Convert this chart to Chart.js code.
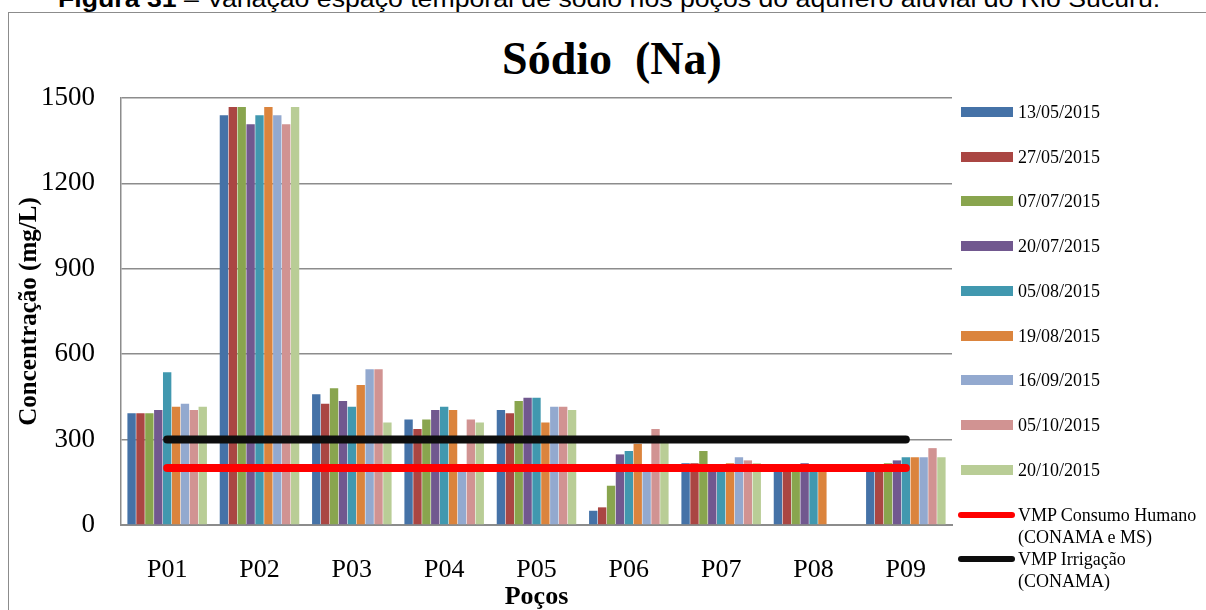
<!DOCTYPE html>
<html>
<head>
<meta charset="utf-8">
<script src="https://cdn.jsdelivr.net/npm/chart.js@4.4.1/dist/chart.umd.min.js"></script>
<style>
  html, body { margin: 0; padding: 0; background: #fff; overflow: hidden; }
  body { width: 1206px; height: 610px; position: relative; }
  #frame { position: absolute; left: 8px; top: 12px; width: 1300px; height: 700px; border: 1px solid #8c8c8c; }
  #caption { position: absolute; left: 58px; top: -13px; font: 24px "Liberation Sans", Arial, sans-serif; line-height: 24px; white-space: nowrap; transform-origin: 0 0; color: #000; }
  #title { position: absolute; left: 0; width: 1224px; top: 36px; text-align: center; font: bold 46px "Liberation Serif", "Times New Roman", serif; line-height: 46px; white-space: pre; color: #000; }
  #chart { position: absolute; left: 0; top: 0; }
  #legend { position: absolute; left: 958px; top: 89.6px; font: 18px "Liberation Serif", "Times New Roman", serif; color: #000; }
  .item { height: 44.75px; display: flex; align-items: center; }
  .box { width: 52px; height: 10px; margin-left: 3px; margin-right: 5px; }
  .ln { width: 57px; height: 6px; border-radius: 3px; margin-right: 3px; }
  .txt { height: 22px; line-height: 22px; white-space: nowrap; }
</style>
</head>
<body>
<div id="frame"></div>
<span id="caption"><b>Figura 31</b> – Variação espaço temporal de sódio nos poços do aquífero aluvial do Rio Sucuru.</span>
<div id="title">Sódio  (Na)</div>
<canvas id="chart" width="1206" height="610"></canvas>
<div id="legend"></div>
<script>
// Poços e datas de coleta
const wells = ["P01", "P02", "P03", "P04", "P05", "P06", "P07", "P08", "P09"];
const dates = ["13/05/2015", "27/05/2015", "07/07/2015", "20/07/2015", "05/08/2015",
               "19/08/2015", "16/09/2015", "05/10/2015", "20/10/2015"];

// Concentração de sódio (mg/L) por data, na ordem dos poços
const na_13_05 = [393, 1439, 459, 371, 404, 50, 217, 200, 205];
const na_27_05 = [393, 1468, 426, 337, 393, 62, 217, 200, 205];
const na_07_07 = [393, 1468, 480, 371, 436, 138, 260, 200, 217];
const na_20_07 = [404, 1408, 436, 404, 447, 248, 205, 217, 227];
const na_05_08 = [537, 1439, 415, 415, 447, 260, 205, 205, 238];
const na_19_08 = [415, 1468, 492, 404, 360, 285, 217, 205, 238];
const na_16_09 = [426, 1439, 547, 200, 415, 200, 238, null, 238];
const na_05_10 = [404, 1408, 547, 371, 415, 337, 227, null, 270];
const na_20_10 = [415, 1468, 360, 360, 404, 290, 217, null, 238];
const series = [na_13_05, na_27_05, na_07_07, na_20_07, na_05_08, na_19_08, na_16_09, na_05_10, na_20_10];

// Valores máximos permitidos
const vmpConsumo = [200, 200, 200, 200, 200, 200, 200, 200, 200];
const vmpIrrigacao = [300, 300, 300, 300, 300, 300, 300, 300, 300];

const yTicks = { min: 0, max: 1500, step: 300 };

const barColors = ["#4572A7", "#AA4643", "#89A54E", "#71588F", "#4198AF",
                   "#DB843D", "#93A9CF", "#D19392", "#B9CD96"];

const GRID = "#8c8c8c";
const serif = '"Liberation Serif", "Times New Roman", serif';

const datasets = series.map((values, i) => ({
  type: "bar",
  label: dates[i],
  data: values,
  backgroundColor: barColors[i],
  borderWidth: 0,
  barPercentage: 0.94,
  categoryPercentage: 0.867,
}));

datasets.push({
  type: "line",
  label: "VMP Consumo Humano\n(CONAMA e MS)",
  data: vmpConsumo,
  borderColor: "#FF0000",
  borderWidth: 8,
  borderCapStyle: "round",
  pointRadius: 0,
  order: -1,
});
datasets.push({
  type: "line",
  label: "VMP Irrigação\n(CONAMA)",
  data: vmpIrrigacao,
  borderColor: "#0D0D0D",
  borderWidth: 8,
  borderCapStyle: "round",
  pointRadius: 0,
  order: -1,
});

const chart = new Chart(document.getElementById("chart"), {
  data: { labels: wells, datasets: datasets },
  options: {
    responsive: false,
    animation: false,
    layout: { padding: { top: 98, right: 254, bottom: 0, left: 0 } },
    plugins: { legend: { display: false }, tooltip: { enabled: false }, title: { display: false } },
    scales: {
      x: {
        grid: { display: false },
        border: { display: true, color: GRID, width: 2 },
        ticks: { color: "#000", padding: 22, font: { family: serif, size: 26 } },
        title: { display: true, text: "Poços", color: "#000", padding: 0,
                 font: { family: serif, size: 26, weight: "bold", lineHeight: 1 } },
        afterFit(scale) { scale.height = 85; },
      },
      y: {
        min: yTicks.min,
        max: yTicks.max,
        grid: { color: GRID, lineWidth: 1.5, drawTicks: false },
        border: { display: true, color: GRID, width: 1.5 },
        ticks: {
          stepSize: yTicks.step, color: "#000", padding: 26,
          font: { family: serif, size: 27 },
          callback: (v) => String(v),
        },
        title: { display: true, text: "Concentração (mg/L)", color: "#000", padding: { top: 15 },
                 font: { family: serif, size: 25, weight: "bold" } },
        afterFit(scale) { scale.width = 121; },
      },
    },
  },
});

// Legenda em HTML, gerada a partir dos datasets
const legend = document.getElementById("legend");
chart.data.datasets.forEach((ds) => {
  const item = document.createElement("div");
  item.className = "item";
  const sw = document.createElement("div");
  sw.className = ds.type === "line" ? "ln" : "box";
  sw.style.background = ds.type === "line" ? ds.borderColor : ds.backgroundColor;
  const txt = document.createElement("div");
  txt.className = "txt";
  txt.innerHTML = ds.label.split("\n").join("<br>");
  item.appendChild(sw);
  item.appendChild(txt);
  legend.appendChild(item);
});

// Ajusta a largura da legenda da figura
const cap = document.getElementById("caption");
cap.style.transform = `scaleX(${1102 / cap.offsetWidth})`;
</script>
</body>
</html>
